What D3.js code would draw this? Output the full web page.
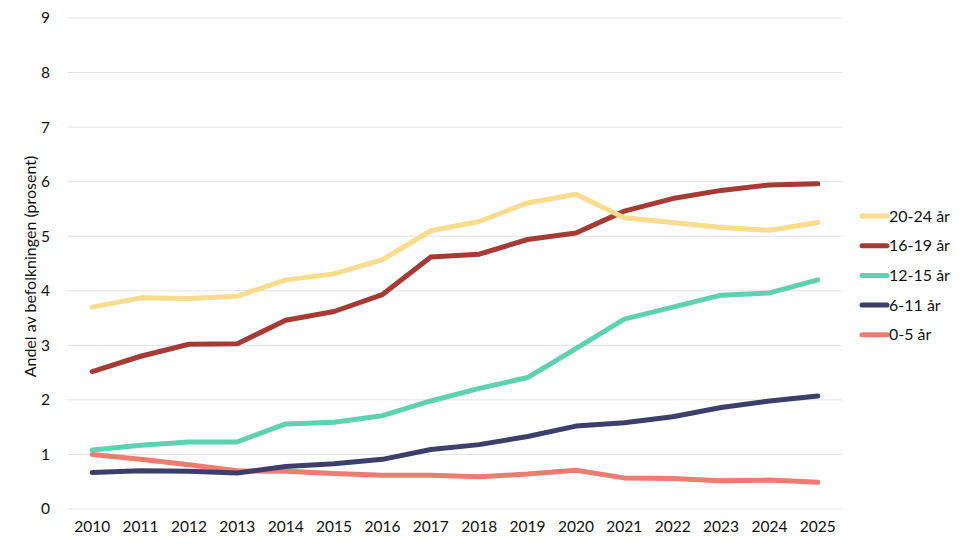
<!DOCTYPE html>
<html>
<head>
<meta charset="utf-8">
<script src="https://cdn.jsdelivr.net/npm/d3@7"></script>
<style>
  body { margin: 0; background: #fff; }
  text { font-family: Lato, "Open Sans", sans-serif; fill: #111; }
</style>
</head>
<body>
<div id="art"></div>
<script>
const years = ["2010","2011","2012","2013","2014","2015","2016","2017","2018","2019","2020","2021","2022","2023","2024","2025"];
const yTicks = [0, 1, 2, 3, 4, 5, 6, 7, 8, 9];

const age20_24 = [3.70, 3.87, 3.86, 3.90, 4.20, 4.31, 4.57, 5.10, 5.27, 5.61, 5.77, 5.34, 5.25, 5.16, 5.11, 5.25];
const age16_19 = [2.52, 2.80, 3.02, 3.03, 3.46, 3.62, 3.93, 4.62, 4.67, 4.94, 5.06, 5.46, 5.69, 5.84, 5.94, 5.96];
const age12_15 = [1.08, 1.17, 1.23, 1.23, 1.56, 1.59, 1.71, 1.98, 2.21, 2.41, 2.94, 3.48, 3.70, 3.92, 3.96, 4.20];
const age6_11  = [0.67, 0.70, 0.69, 0.66, 0.78, 0.83, 0.91, 1.09, 1.18, 1.33, 1.52, 1.58, 1.69, 1.86, 1.98, 2.07];
const age0_5   = [1.00, 0.91, 0.81, 0.70, 0.69, 0.65, 0.62, 0.62, 0.59, 0.64, 0.71, 0.57, 0.56, 0.52, 0.53, 0.49];

const seriesNames = ["20-24 år", "16-19 år", "12-15 år", "6-11 år", "0-5 år"];
const seriesValues = [age20_24, age16_19, age12_15, age6_11, age0_5];
const colours = ["#F9DC8C", "#A63A34", "#5ED2B0", "#3D3E69", "#EE7C71"];

// draw order: bottom series first so the yellow/red sit on top like the original
const drawOrder = [4, 3, 2, 1, 0];

function art() {
  const width = 970, height = 550;
  const margin = { left: 68, right: 128, top: 18, bottom: 41 };

  const svg = d3.select("#art").append("svg")
    .attr("width", width)
    .attr("height", height);

  const x = d3.scaleBand()
    .domain(years)
    .range([margin.left, width - margin.right]);

  const y = d3.scaleLinear()
    .domain([0, 9])
    .range([height - margin.bottom, margin.top]);

  // gridlines
  svg.append("g")
    .selectAll("line")
    .data(yTicks)
    .join("line")
    .attr("x1", margin.left)
    .attr("x2", width - margin.right)
    .attr("y1", d => y(d))
    .attr("y2", d => y(d))
    .style("stroke", "#e3e3e3")
    .style("stroke-width", 1);

  // y axis labels
  const yAxis = svg.append("g")
    .attr("transform", `translate(${margin.left},0)`)
    .call(d3.axisLeft(y).tickValues(yTicks).tickSize(0).tickPadding(18));
  yAxis.select(".domain").remove();
  yAxis.selectAll("text").style("font-size", "15.5px").style("font-family", "Lato, sans-serif").style("fill", "#111");

  // x axis labels
  const xAxis = svg.append("g")
    .attr("transform", `translate(0,${height - margin.bottom})`)
    .call(d3.axisBottom(x).tickSize(0).tickPadding(12));
  xAxis.select(".domain").remove();
  xAxis.selectAll("text").style("font-size", "15.5px").style("font-family", "Lato, sans-serif").style("fill", "#111");

  // y title
  svg.append("text")
    .attr("transform", `translate(36,${(margin.top + height - margin.bottom) / 2 + 3}) rotate(-90)`)
    .attr("text-anchor", "middle")
    .style("font-size", "16px")
    .text("Andel av befolkningen (prosent)");

  const line = d3.line()
    .x((d, i) => x(years[i]) + x.bandwidth() / 2)
    .y(d => y(d));

  svg.append("g")
    .selectAll("path")
    .data(drawOrder)
    .join("path")
    .attr("d", k => line(seriesValues[k]))
    .style("fill", "none")
    .style("stroke", k => colours[k])
    .style("stroke-width", 5)
    .style("stroke-linejoin", "round")
    .style("stroke-linecap", "round");

  // legend
  const legend = svg.append("g")
    .attr("transform", "translate(862,216)");

  const rows = legend.selectAll("g")
    .data(seriesNames)
    .join("g")
    .attr("transform", (d, i) => `translate(0,${i * 29.7})`);

  rows.append("line")
    .attr("x1", 0).attr("x2", 25)
    .attr("y1", 0).attr("y2", 0)
    .style("stroke", (d, i) => colours[i])
    .style("stroke-width", 5)
    .style("stroke-linecap", "round");

  rows.append("text")
    .attr("x", 27)
    .attr("dy", "0.35em")
    .style("font-size", "16px")
    .text(d => d);
}

window.onload = function () {
  art();
};
</script>
</body>
</html>
